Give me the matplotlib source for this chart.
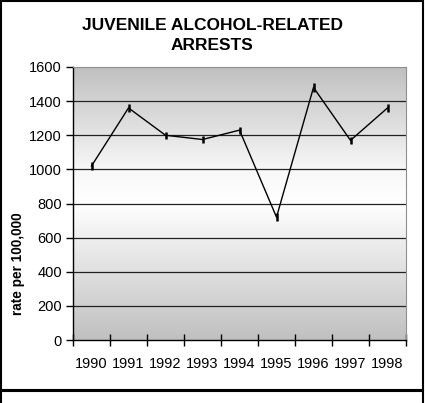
import numpy as np
import matplotlib.pyplot as plt
from matplotlib.patches import Rectangle
from matplotlib.colors import LinearSegmentedColormap

plt.rcParams['font.family'] = ['Liberation Sans', 'DejaVu Sans']

# data
years = ['1990', '1991', '1992', '1993', '1994', '1995', '1996', '1997', '1998']
rate = [1020, 1360, 1200, 1175, 1230, 720, 1480, 1170, 1360]
err = [25, 25, 20, 20, 20, 25, 25, 20, 25]
yticks = [0, 200, 400, 600, 800, 1000, 1200, 1400, 1600]

fig = plt.figure(figsize=(4.25, 4.03), dpi=100)
W, H = 425, 403

# outer frames
fig.patches.append(Rectangle((1/W, 1 - 390/H), 422/W, 389/H, transform=fig.transFigure,
                             fill=False, edgecolor='black', linewidth=1.5))
fig.patches.append(Rectangle((1/W, -0.01), 422/W, (403 - 391)/H + 0.01, transform=fig.transFigure,
                             fill=False, edgecolor='black', linewidth=1.5))

ax = fig.add_axes([73/W, 1 - 340/H, (406 - 73)/W, (340 - 67)/H])

x = np.arange(len(years))
ax.set_xlim(-0.5, len(years) - 0.5)
ax.set_ylim(0, 1600)

# gray -> white -> gray background
cmap = LinearSegmentedColormap.from_list('bg', [(0, '#c0c0c0'), (0.5, '#ffffff'), (0.62, '#f8f8f8'), (1, '#c0c0c0')])
grad = np.linspace(0, 1, 256).reshape(-1, 1)
ax.imshow(grad, cmap=cmap, aspect='auto', extent=(-0.5, len(years) - 0.5, 0, 1600),
          origin='lower', zorder=0)

for v in yticks[1:-1]:
    ax.axhline(v, color='#222222', linewidth=0.9, zorder=1)

ax.errorbar(x, rate, yerr=err, color='black', linewidth=1.0, elinewidth=1.8,
            capsize=0, zorder=3)

ax.set_yticks(yticks)
ax.set_xticks(x)
ax.set_xticklabels(years)
ax.set_xticks(np.arange(-0.5, len(years)), minor=True)
ax.tick_params(axis='x', which='major', length=0, labelsize=10.5, pad=12)
ax.tick_params(axis='x', which='minor', direction='inout', length=8, width=1)
ax.tick_params(axis='y', direction='out', length=5, width=1, labelsize=10.5, pad=3)

for s in ['top', 'right']:
    ax.spines[s].set_color('#909090')
for s in ['left', 'bottom']:
    ax.spines[s].set_color('black')
    ax.spines[s].set_linewidth(1)

ax.set_ylabel('rate per 100,000', fontsize=9.8, fontweight='bold')
ax.yaxis.set_label_coords(-0.144, 0.28)

fig.text(212/W, 1 - 25/H, 'JUVENILE ALCOHOL-RELATED', ha='center', va='center',
         fontsize=12.5, fontweight='bold')
fig.text(212/W, 1 - 46/H, 'ARRESTS', ha='center', va='center',
         fontsize=12.5, fontweight='bold')

fig.savefig('out.png', dpi=100)
